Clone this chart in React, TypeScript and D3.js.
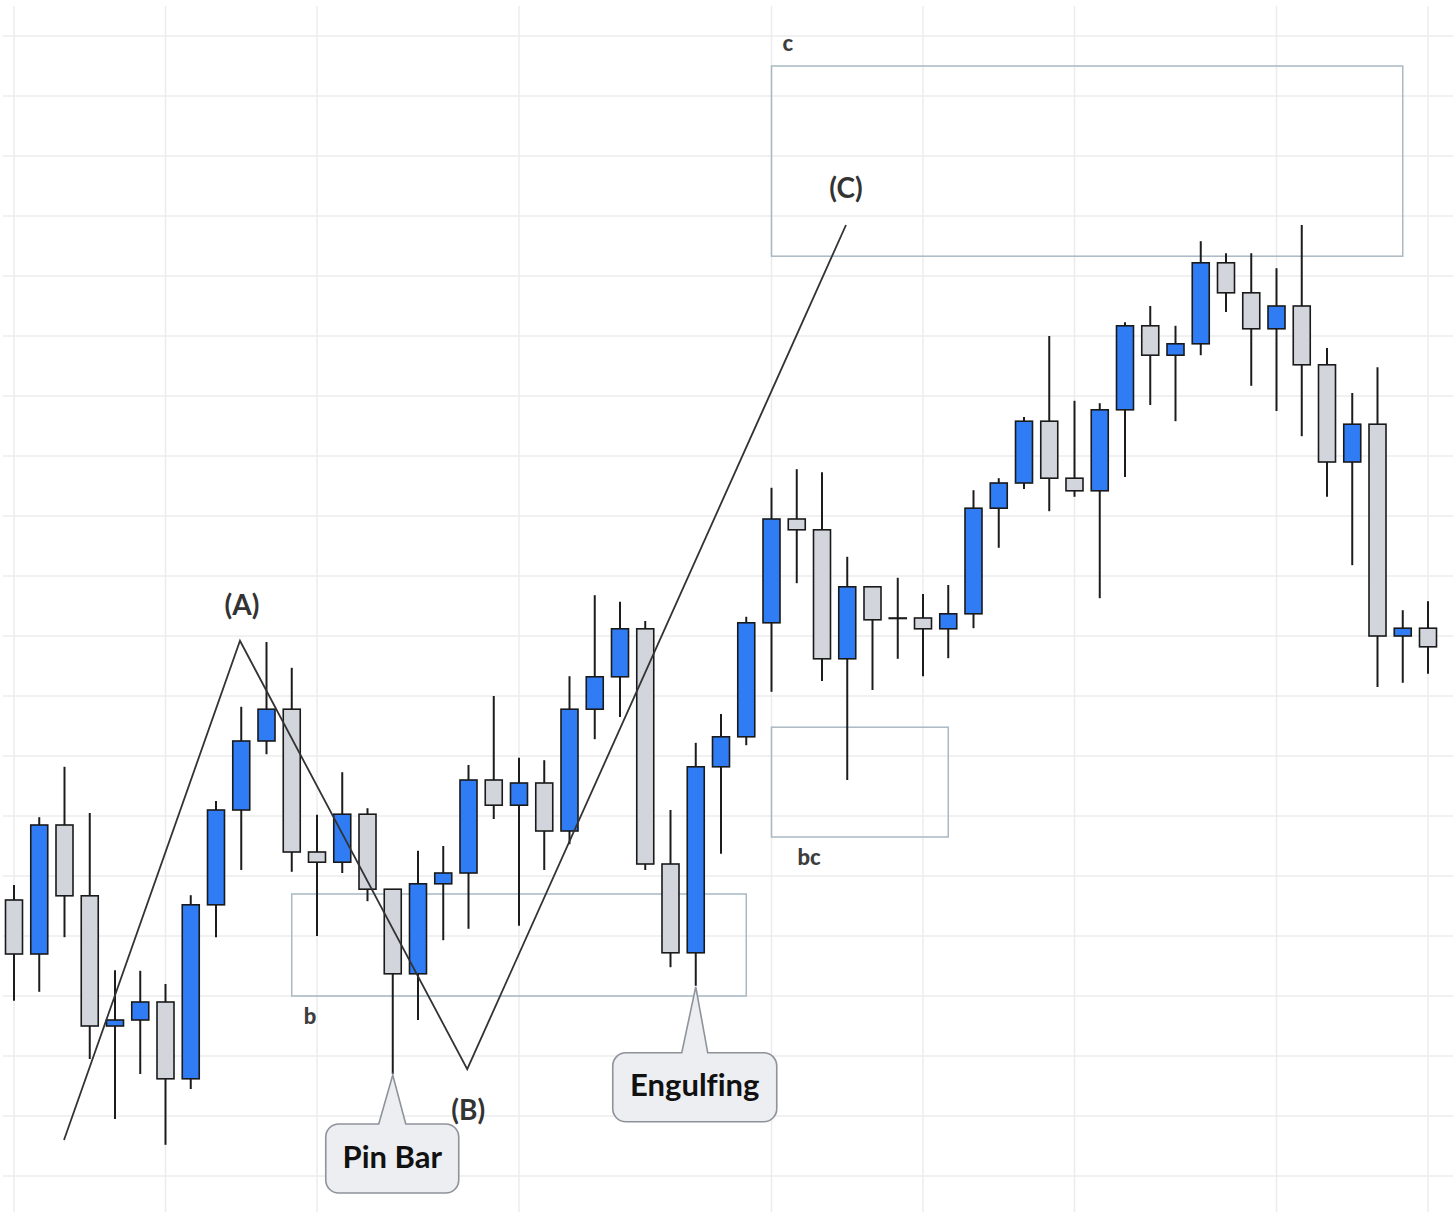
import React from "react";
import * as d3 from "d3";

// ---- Data (price units; 57 daily candles) ----
const opens = [
  146.0, 137.0, 158.5, 146.7, 125.0, 126.0, 129.0, 116.2, 145.2, 161.0,
  172.5, 177.8, 154.0, 152.3, 160.3, 147.8, 133.7, 148.7, 150.5, 166.0,
  161.8, 165.5, 157.5, 177.8, 183.2, 191.2, 152.0, 137.2, 168.2, 173.2,
  192.2, 209.5, 207.7, 186.2, 198.2, 193.0, 193.0, 191.2, 193.7, 211.3,
  215.5, 225.8, 216.3, 214.2, 227.7, 241.7, 236.8, 238.7, 252.2, 247.2,
  241.2, 245.0, 235.2, 219.0, 225.3, 190.0, 191.3,
];
const highs = [
  148.5, 159.8, 168.2, 160.5, 134.3, 134.2, 132.0, 146.8, 162.5, 178.2,
  189.0, 184.7, 160.2, 167.3, 161.3, 147.8, 154.2, 155.0, 168.5, 180.0,
  169.7, 169.3, 183.3, 196.8, 195.7, 192.5, 161.0, 172.2, 177.0, 193.2,
  214.7, 217.8, 217.3, 203.2, 198.2, 199.7, 197.0, 198.5, 214.3, 216.3,
  226.5, 240.0, 229.2, 228.8, 242.3, 245.0, 241.7, 255.8, 253.8, 253.8,
  251.3, 258.5, 238.0, 230.5, 234.8, 194.3, 195.8,
];
const lows = [
  129.2, 130.7, 139.8, 119.5, 109.5, 117.0, 105.2, 114.5, 139.8, 151.0,
  170.3, 150.7, 140.0, 150.5, 145.8, 117.0, 126.0, 139.3, 141.2, 159.5,
  141.7, 151.0, 155.3, 172.8, 176.5, 151.0, 134.8, 131.7, 153.7, 171.8,
  180.7, 198.8, 182.5, 166.0, 181.0, 186.2, 183.3, 186.3, 191.3, 204.7,
  214.5, 210.8, 213.2, 196.3, 216.5, 228.5, 225.8, 236.8, 244.0, 231.7,
  227.5, 223.3, 213.2, 201.8, 181.5, 182.2, 183.7,
];
const closes = [
  137.0, 158.5, 146.7, 125.0, 126.0, 129.0, 116.2, 145.2, 161.0, 172.5,
  177.8, 154.0, 152.3, 160.3, 147.8, 133.7, 148.7, 150.5, 166.0, 161.8,
  165.5, 157.5, 177.8, 183.2, 191.2, 152.0, 137.2, 168.2, 173.2, 192.2,
  209.5, 207.7, 186.2, 198.2, 192.7, 193.0, 191.2, 193.7, 211.3, 215.5,
  225.8, 216.3, 214.2, 227.7, 241.7, 236.8, 238.7, 252.2, 247.2, 241.2,
  245.0, 235.2, 219.0, 225.3, 190.0, 191.3, 188.2,
];

// grid (vertical lines fall on these candle indices, horizontal on these prices)
const gridCandleIdx = [0, 6, 12, 20, 30, 36, 42, 50, 56];
const gridPrices = [
  100, 110, 120, 130, 140, 150, 160, 170, 180, 190,
  200, 210, 220, 230, 240, 250, 260, 270, 280, 290,
];

// ABC wave
const waveLabels = ["", "(A)", "(B)", "(C)"];
const waveIdx = [1.98, 8.95, 17.95, 32.95];
const wavePrice = [106.0, 189.2, 117.8, 258.5];

// zones
const zoneNames = ["b", "bc", "c"];
const zoneStartIdx = [11, 30, 30];
const zoneEndIdx = [29, 37, 55];
const zoneLow = [130.0, 156.5, 253.3];
const zoneHigh = [147.0, 174.8, 285.0];

// callouts
const calloutTexts = ["Pin Bar", "Engulfing"];
const calloutIdx = [15, 27];

const W = 1453;
const H = 1212;

function calloutPath(
  x0: number, y0: number, x1: number, y1: number, r: number,
  bx0: number, bx1: number, tx: number, ty: number
) {
  const p = d3.path();
  p.moveTo(x0 + r, y0);
  p.lineTo(bx0, y0);
  p.lineTo(tx, ty);
  p.lineTo(bx1, y0);
  p.lineTo(x1 - r, y0);
  p.arcTo(x1, y0, x1, y0 + r, r);
  p.lineTo(x1, y1 - r);
  p.arcTo(x1, y1, x1 - r, y1, r);
  p.lineTo(x0 + r, y1);
  p.arcTo(x0, y1, x0, y1 - r, r);
  p.lineTo(x0, y0 + r);
  p.arcTo(x0, y0, x0 + r, y0, r);
  p.closePath();
  return p.toString();
}

const noLig: React.CSSProperties = {
  fontVariantLigatures: "none",
  fontFeatureSettings: '"liga" 0, "clig" 0',
};

export default function App() {
  const x = d3.scaleLinear().domain([0, 56]).range([14, 1428]);
  const y = d3.scaleLinear().domain([100, 290]).range([1176, 36]);
  const bodyW = 17;

  const waveLine = d3
    .line<number>()
    .x((_, i) => x(waveIdx[i]))
    .y((d) => y(d));

  // label placement offsets (style, not data)
  const waveLabelDy = [0, -26, 51, -27];
  const waveLabelDx = [0, 2, 1, 0];
  const zoneLabelDx = [12, 26, 11];
  const zoneLabelPos = ["below", "below", "above"];

  const calloutGeom = [
    { left: 67, right: 66, top: 50, bottom: 119, b0: 14, b1: 13 },
    { left: 83, right: 81, top: 67, bottom: 136, b0: 14, b1: 12 },
  ];

  return (
    <div style={{ position: "absolute", left: 0, top: 0 }}>
      <style>{"body{margin:0;background:#fff;}"}</style>
      <svg width={W} height={H} style={{ display: "block", background: "#fff" }}>
        {/* grid */}
        <g>
          {gridPrices.map((p) => (
            <line key={"h" + p} x1={3} x2={W} y1={y(p)} y2={y(p)} stroke="#ececee" strokeWidth={1.5} />
          ))}
          {gridCandleIdx.map((i) => (
            <line key={"v" + i} x1={x(i)} x2={x(i)} y1={6} y2={H} stroke="#ececee" strokeWidth={1.5} />
          ))}
        </g>

        {/* zones */}
        <g>
          {zoneNames.map((n, i) => {
            const x0 = x(zoneStartIdx[i]);
            const x1 = x(zoneEndIdx[i]);
            const y0 = y(zoneHigh[i]);
            const y1 = y(zoneLow[i]);
            return (
              <g key={n}>
                <rect x={x0} y={y0} width={x1 - x0} height={y1 - y0} fill="none" stroke="#a9b9c4" strokeWidth={1.5} />
                <text
                  x={x0 + zoneLabelDx[i]}
                  y={zoneLabelPos[i] === "below" ? y1 + 28 : y0 - 15}
                  fontFamily="Lato, 'Open Sans', sans-serif"
                  fontWeight={900}
                  fontSize={22}
                  fill="#3d3d3d"
                >
                  {n}
                </text>
              </g>
            );
          })}
        </g>

        {/* candles */}
        <g>
          {opens.map((o, i) => {
            const c = closes[i];
            const up = c > o;
            const top = y(Math.max(o, c));
            const bot = y(Math.min(o, c));
            const cx = x(i);
            return (
              <g key={i}>
                <line x1={cx} x2={cx} y1={y(highs[i])} y2={y(lows[i])} stroke="#1c1c1c" strokeWidth={2} />
                <rect
                  x={cx - bodyW / 2}
                  y={top}
                  width={bodyW}
                  height={Math.max(bot - top, 0.5)}
                  fill={up ? "#2f7cf4" : "#d3d5dc"}
                  stroke="#1a1a1a"
                  strokeWidth={1.6}
                />
              </g>
            );
          })}
        </g>

        {/* wave line */}
        <path d={waveLine(wavePrice) || ""} fill="none" stroke="#333" strokeWidth={1.8} />
        {waveLabels.map((l, i) =>
          l ? (
            <text
              key={l}
              x={x(waveIdx[i]) + waveLabelDx[i]}
              y={y(wavePrice[i]) + waveLabelDy[i]}
              textAnchor="middle"
              fontFamily="Lato, 'Open Sans', sans-serif"
              fontWeight={700}
              fontSize={28}
              fill="#333"
            >
              {l}
            </text>
          ) : null
        )}

        {/* callouts */}
        {calloutTexts.map((t, i) => {
          const tx = x(calloutIdx[i]);
          const ty = y(lows[calloutIdx[i]]);
          const g = calloutGeom[i];
          const x0 = tx - g.left;
          const x1 = tx + g.right;
          const y0 = ty + g.top;
          const y1 = ty + g.bottom;
          return (
            <g key={t}>
              <path
                d={calloutPath(x0, y0, x1, y1, 13, tx - g.b0, tx + g.b1, tx, ty + 1)}
                fill="#eceef2"
                stroke="#8e939a"
                strokeWidth={1.6}
              />
              <text
                x={(x0 + x1) / 2}
                y={(y0 + y1) / 2 + 9}
                textAnchor="middle"
                fontFamily="Lato, 'Open Sans', sans-serif"
                fontWeight={700}
                fontSize={31}
                fill="#111"
                style={noLig}
              >
                {t}
              </text>
            </g>
          );
        })}
      </svg>
    </div>
  );
}
